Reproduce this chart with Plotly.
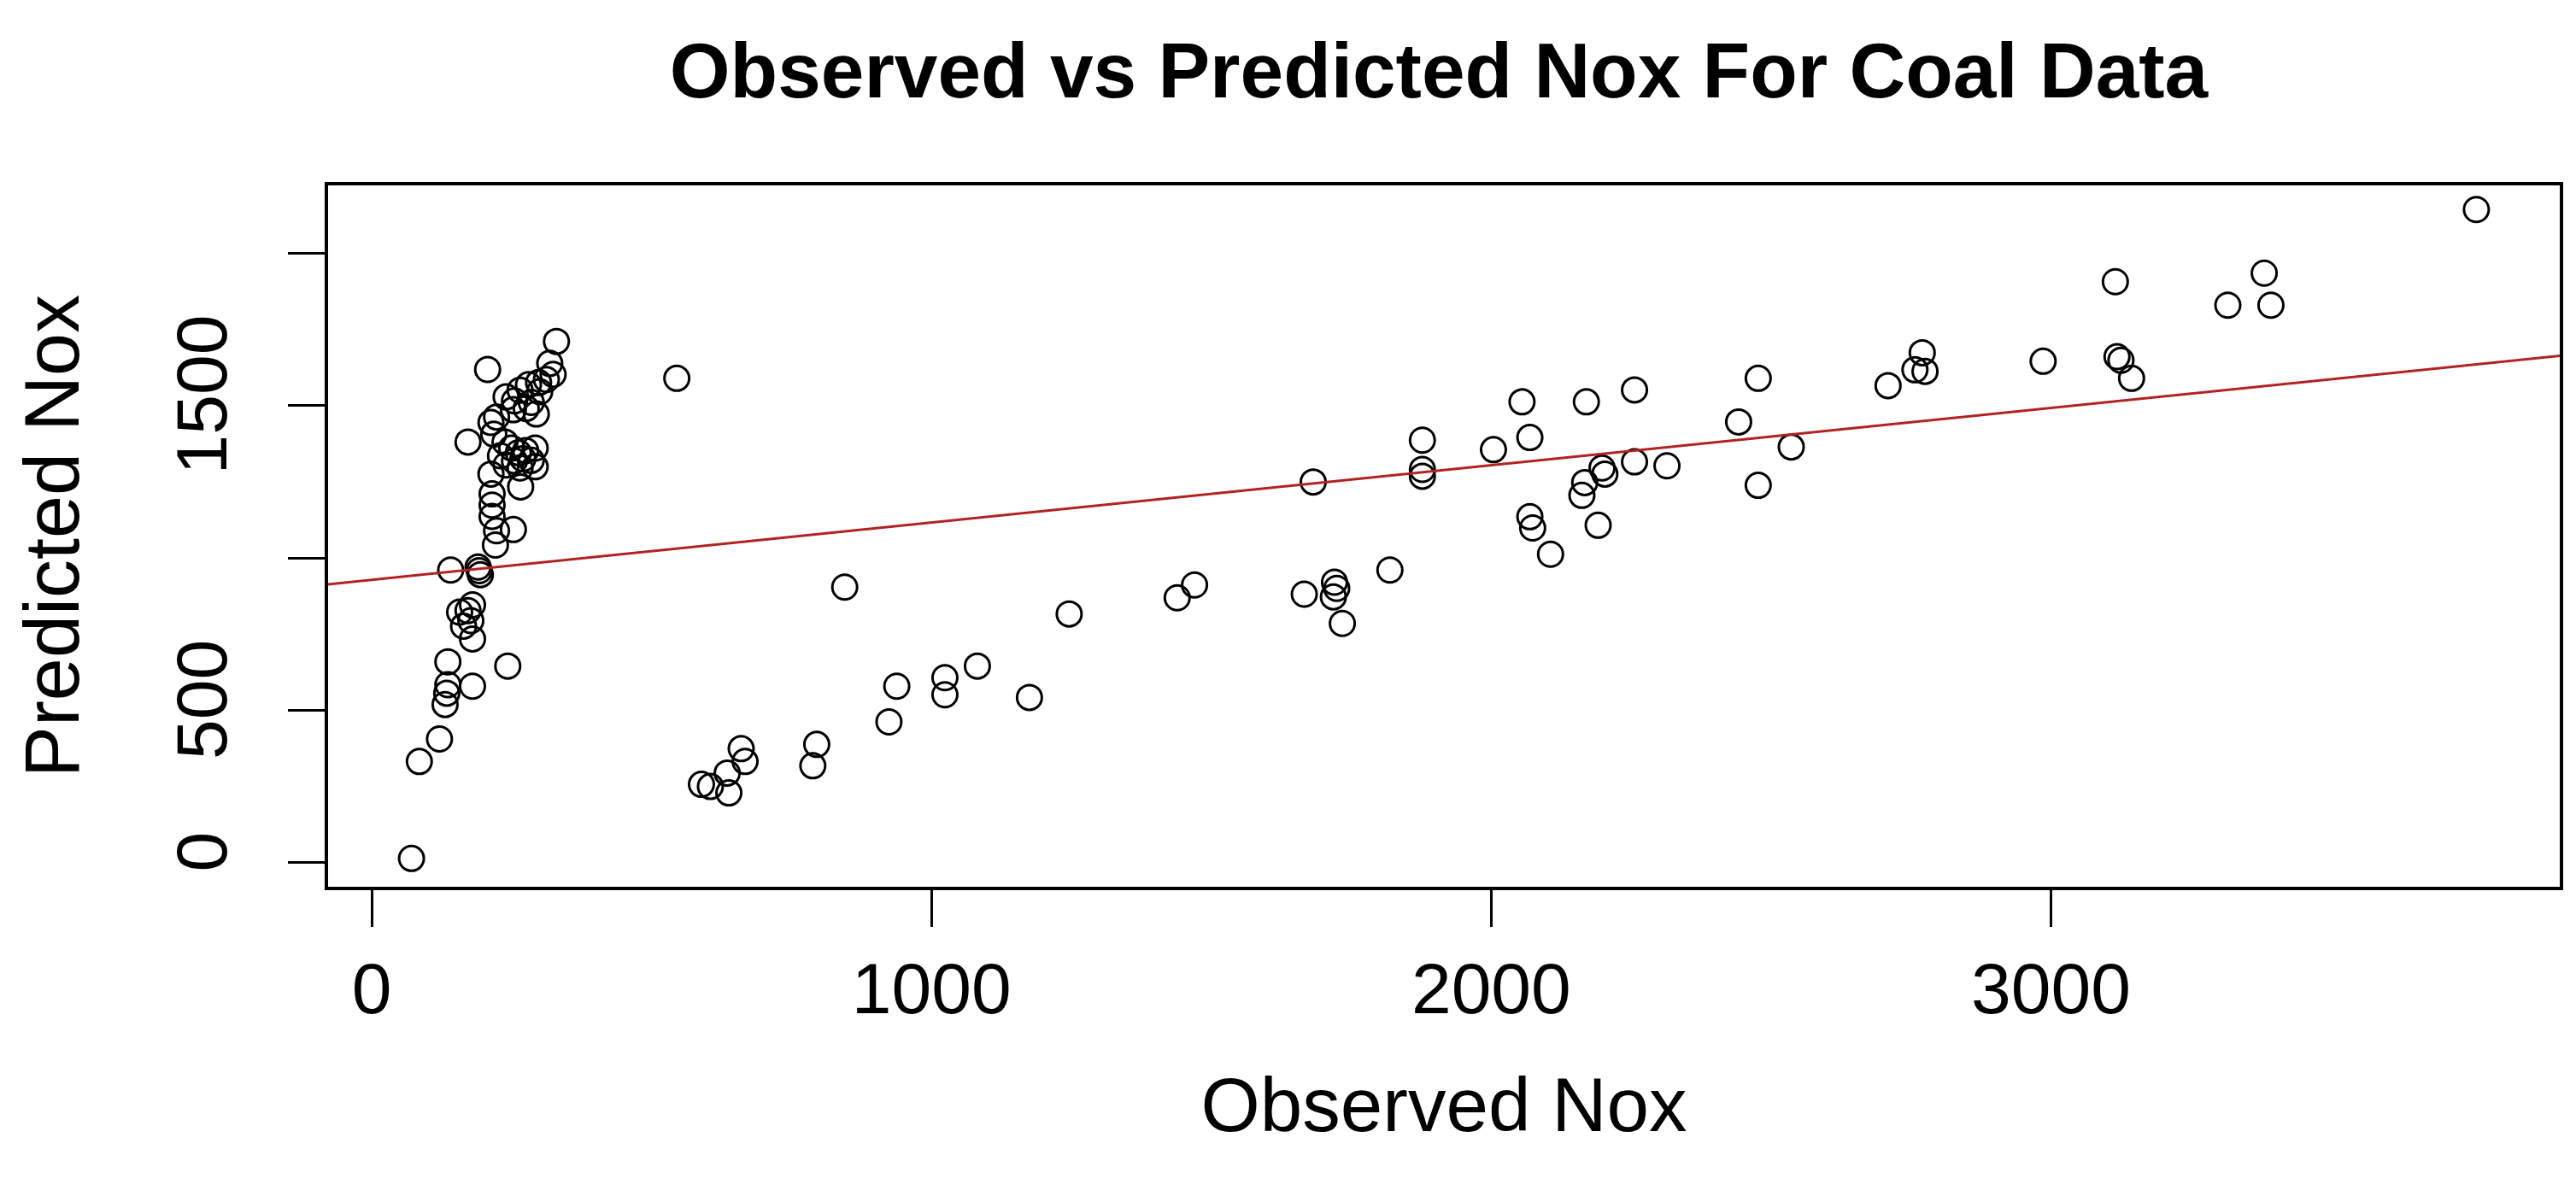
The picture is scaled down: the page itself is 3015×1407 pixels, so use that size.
import plotly.graph_objects as go

# ---- data (paired point by point) ----
observed_nox = [
    # left, upper cluster
    330, 318, 324, 312, 298, 280, 207, 300, 265, 240, 255, 285, 294,
    276, 253, 223, 213, 218, 172, 238, 250, 262, 275, 292, 270, 255,
    240, 285, 292, 265, 230, 266, 213, 215, 215, 215, 253, 223, 221,
    # left, lower cluster
    141, 192, 194, 190, 180, 172, 157, 177, 164, 180, 136, 243, 180,
    136, 134, 131, 121, 85, 71,
    # 500 - 1200
    545, 845, 1082, 1024, 1024, 938, 924, 1175, 795, 788, 660, 667,
    635, 589, 605, 638,
    # 1200 - 1900
    1246, 1439, 1470, 1682, 1877, 1877, 1877, 1666, 1720, 1724, 1718,
    1734, 1819,
    # 2000 - 2550
    2055, 2170, 2256, 2477, 2069, 2004, 2442, 2198, 2203, 2167, 2162,
    2256, 2314, 2536, 2477, 2069, 2074, 2106, 2191,
    # 2700 - 3400
    2709, 2770, 2757, 2775, 2986, 3115, 3118, 3125, 3144, 3381, 3316,
    3393,
    # far right
    3760,
]
predicted_nox = [
    # left, upper cluster
    1710, 1638, 1602, 1585, 1575, 1568, 1618, 1545, 1550, 1528, 1515, 1510, 1472,
    1490, 1486, 1462, 1444, 1406, 1380, 1380, 1360, 1345, 1352, 1360, 1325, 1318,
    1305, 1320, 1299, 1295, 1335, 1233, 1275, 1210, 1173, 1136, 1093, 1089, 1042,
    # left, lower cluster
    960, 958, 945, 970, 846, 827, 822, 794, 776, 734, 659, 645, 579,
    584, 556, 519, 406, 332, 14,
    # 500 - 1200
    1589, 904, 645, 607, 551, 579, 462, 542, 388, 318, 374, 332,
    294, 257, 250, 229,
    # 1200 - 1900
    816, 869, 911, 1249, 1386, 1290, 1268, 881, 920, 900, 872,
    785, 960,
    # 2000 - 2550
    1512, 1512, 1551, 1589, 1395, 1355, 1446, 1295, 1275, 1247, 1205,
    1315, 1302, 1364, 1238, 1135, 1098, 1012, 1107,
    # 2700 - 3400
    1565, 1673, 1617, 1612, 1645, 1906, 1660, 1648, 1589, 1934, 1829,
    1829,
    # far right
    2143,
]
assert len(observed_nox) == len(predicted_nox)

fit_intercept = 928.0
fit_slope = 0.188

x_ticks = [0, 1000, 2000, 3000]
x_tick_text = ["0", "1000", "2000", "3000"]
y_ticks = [0, 500, 1000, 1500, 2000]
y_tick_text = ["0", "500", "", "1500", ""]

title_text = "Observed vs Predicted Nox For Coal Data"
x_title = "Observed Nox"
y_title = "Predicted Nox"

x_range = [-78, 3909]
y_range = [-79, 2222]

FONT = "Liberation Sans, Arial, sans-serif"

fig = go.Figure()
fig.add_trace(go.Scatter(
    x=observed_nox, y=predicted_nox, mode="markers",
    marker=dict(symbol="circle-open", size=29, color="black",
                line=dict(width=3, color="black")),
    showlegend=False, hoverinfo="x+y",
))
line_x = list(x_range)
line_y = [fit_intercept + fit_slope * v for v in line_x]
fig.add_trace(go.Scatter(
    x=line_x, y=line_y, mode="lines",
    line=dict(color="#B22222", width=3),
    showlegend=False, hoverinfo="skip",
))

fig.update_layout(
    width=3015, height=1407,
    margin=dict(l=376, r=27, t=209, b=377),
    paper_bgcolor="white", plot_bgcolor="white",
    font=dict(family=FONT, color="black"),
    title=dict(text="<b>" + title_text + "</b>", x=1676 / 3015, xanchor="center",
               y=1 - 74 / 1407, yanchor="middle", yref="container",
               font=dict(size=91, family=FONT, color="black")),
)
fig.update_xaxes(
    range=x_range, tickvals=x_ticks, ticktext=x_tick_text,
    ticks="outside", ticklen=43, tickwidth=3, tickcolor="black",
    showline=True, linewidth=4, linecolor="black", mirror=True,
    showgrid=False, zeroline=False,
    tickfont=dict(size=84, family=FONT, color="black"),
    title=dict(text=x_title, font=dict(size=89, family=FONT, color="black"),
               standoff=60),
)
fig.update_yaxes(
    range=y_range, tickvals=y_ticks, ticktext=y_tick_text,
    ticks="outside", ticklen=43, tickwidth=3, tickcolor="black",
    showline=True, linewidth=4, linecolor="black", mirror=True,
    showgrid=False, zeroline=False, tickangle=-90, ticklabelstandoff=38,
    tickfont=dict(size=84, family=FONT, color="black"),
    title=dict(text=y_title, font=dict(size=90, family=FONT, color="black"),
               standoff=68),
)

fig.write_html("out.html")
